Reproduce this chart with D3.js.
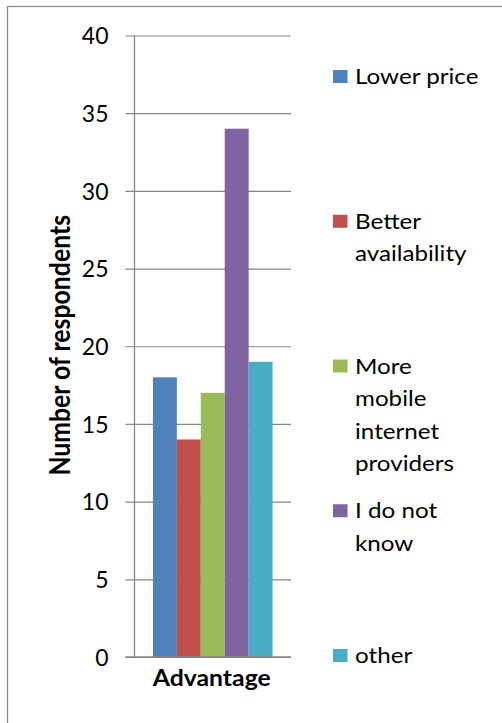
<!DOCTYPE html>
<html>
<head>
<meta charset="utf-8">
<script src="https://cdn.jsdelivr.net/npm/d3@7"></script>
<style>
  html, body { margin: 0; padding: 0; background: #fff; }
  svg { display: block; }
  text { font-family: Lato, "Open Sans", sans-serif; fill: #000; }
</style>
</head>
<body>
<svg id="chart" width="502" height="723"></svg>
<script>
// Survey answers: perceived advantage of more competition
const categories = ["Advantage"];
const seriesNames = ["Lower price", "Better\navailability", "More\nmobile\ninternet\nproviders", "I do not\nknow", "other"];
const seriesValues = [18, 14, 17, 34, 19];
const seriesColors = ["#4F81BD", "#C0504D", "#9BBB59", "#8064A2", "#4BACC6"];
const yTicks = [0, 5, 10, 15, 20, 25, 30, 35, 40];
const yTitle = "Number of respondents";

const svg = d3.select("#chart");

// outer chart frame (right/bottom edges run past the canvas)
svg.append("rect")
  .attr("x", 7.5).attr("y", 6.5)
  .attr("width", 520).attr("height", 740)
  .attr("fill", "none").attr("stroke", "#8a8a8a").attr("stroke-width", 1.3);

const plot = { left: 134.5, right: 291, top: 35.5, bottom: 657 };

const y = d3.scaleLinear().domain([0, 40]).range([plot.bottom, plot.top]);
const x0 = d3.scaleBand().domain(categories)
  .range([plot.left, plot.right]).paddingInner(0).paddingOuter(0.154);
const x1 = d3.scaleBand().domain(d3.range(seriesValues.length))
  .range([0, x0.bandwidth()]).padding(0);

// horizontal gridlines with outside tick marks
const yAxis = d3.axisLeft(y).tickValues(yTicks)
  .tickSize(-(plot.right - plot.left)).tickSizeOuter(0).tickFormat(d3.format("d"));
const gy = svg.append("g").attr("transform", `translate(${plot.left},0)`).call(yAxis);
gy.select(".domain").remove();
gy.selectAll(".tick line")
  .attr("x1", -9).attr("x2", plot.right - plot.left)
  .attr("stroke", "#868686").attr("stroke-width", 1.2);
gy.selectAll(".tick text")
  .attr("x", -26).attr("dy", "0.36em")
  .style("font-size", "23px").style("font-family", "Lato, sans-serif")
  .attr("fill", "#000");

// bars
svg.append("g").selectAll("rect")
  .data(seriesValues)
  .join("rect")
  .attr("x", (d, i) => x0(categories[0]) + x1(i))
  .attr("y", d => y(d))
  .attr("width", x1.bandwidth())
  .attr("height", d => y(0) - y(d))
  .attr("fill", (d, i) => seriesColors[i]);

// vertical axis line and baseline
svg.append("line")
  .attr("x1", plot.left).attr("x2", plot.left)
  .attr("y1", plot.top).attr("y2", plot.bottom)
  .attr("stroke", "#868686").attr("stroke-width", 1.3);
svg.append("line")
  .attr("x1", plot.left - 9).attr("x2", plot.right)
  .attr("y1", plot.bottom).attr("y2", plot.bottom)
  .attr("stroke", "#868686").attr("stroke-width", 1.3);

// category label
svg.append("text")
  .attr("transform", `translate(${x0(categories[0]) + x0.bandwidth() / 2 - 1},686) scale(1.1,1)`)
  .attr("text-anchor", "middle")
  .style("font-size", "22.5px").style("font-weight", "bold")
  .text(categories[0]);

// y-axis title
svg.append("text")
  .attr("transform", `translate(70,${(plot.top + plot.bottom) / 2 - 1}) rotate(-90) scale(1,1.15)`)
  .attr("text-anchor", "middle")
  .style("font-size", "24.8px").style("font-weight", "bold")
  .text(yTitle);

// legend
const legend = svg.append("g");
const legendY = d3.scaleLinear().domain([0, seriesNames.length - 1]).range([84, 663]);
seriesNames.forEach((name, i) => {
  const by = legendY(i);
  legend.append("rect")
    .attr("x", 333).attr("y", by - 14)
    .attr("width", 14.5).attr("height", 13)
    .attr("fill", seriesColors[i]);
  name.split("\n").forEach((line, j) => {
    legend.append("text")
      .attr("transform", `translate(355,${by + j * 32.5}) scale(1.12,1)`)
      .style("font-size", "21.6px")
      .text(line);
  });
});
</script>
</body>
</html>
